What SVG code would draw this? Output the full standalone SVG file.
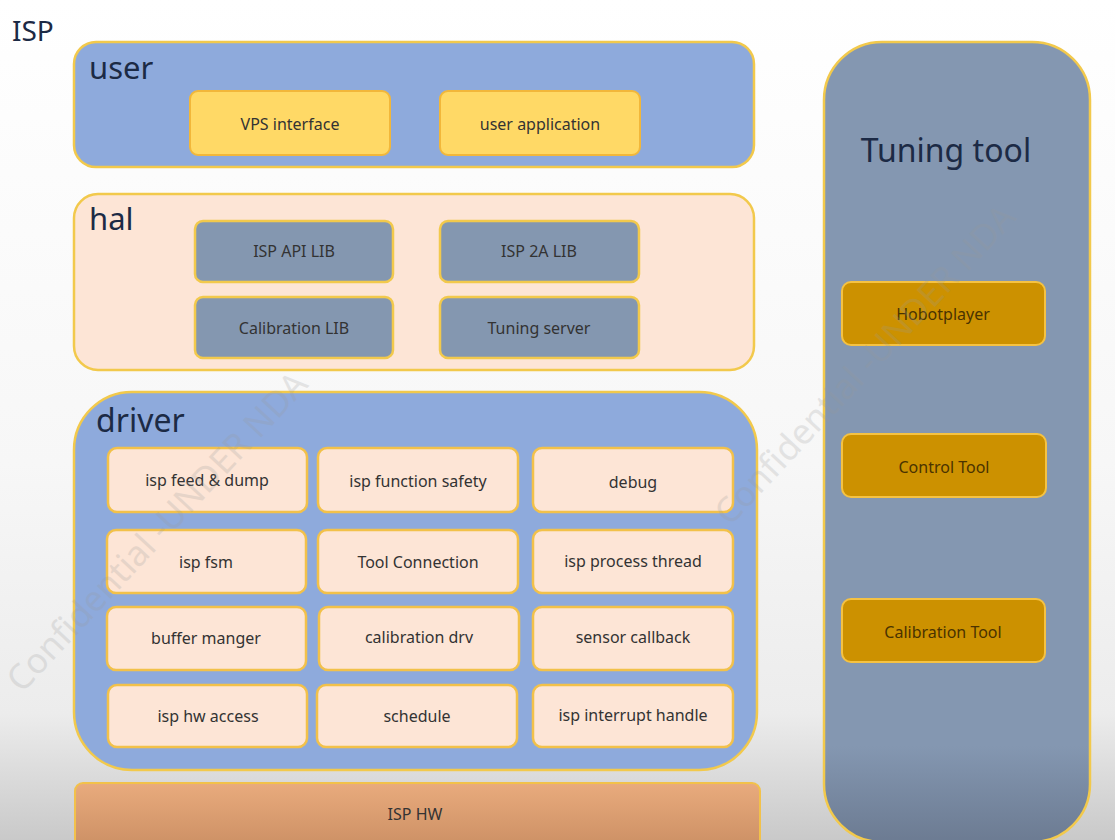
<svg xmlns="http://www.w3.org/2000/svg" width="1115" height="840" viewBox="0 0 1115 840">
<defs>
<linearGradient id="bg" x1="0" y1="0" x2="0" y2="1">
<stop offset="0" stop-color="#ffffff"/>
<stop offset="0.55" stop-color="#f7f7f7"/>
<stop offset="0.85" stop-color="#ececec"/>
<stop offset="1" stop-color="#c9c9c9"/>
</linearGradient>
<linearGradient id="hw" x1="0" y1="0" x2="0" y2="1">
<stop offset="0" stop-color="#e9ab7d"/>
<stop offset="1" stop-color="#c98d62"/>
</linearGradient>
<linearGradient id="tt" x1="0" y1="0" x2="0" y2="1">
<stop offset="0" stop-color="#8497b1"/>
<stop offset="0.88" stop-color="#8497b1"/>
<stop offset="1" stop-color="#6c7b92"/>
</linearGradient>
<style>
.layer{stroke:#f2c94c;stroke-width:2.5}
.blue{fill:#8eaadc}
.peach{fill:#fde5d6}
.title{font-family:"Noto Sans","Liberation Sans",sans-serif;fill:#1c2a45}
.lbl{font-family:"Noto Sans","Liberation Sans",sans-serif;font-size:16px;text-anchor:middle;fill:#333}
.ybox{fill:#ffd966;stroke:#f2b73a;stroke-width:2}
.gbox{fill:#8497b0;stroke:#f2c94c;stroke-width:2.5}
.pbox{fill:#fde5d6;stroke:#f2c14a;stroke-width:2.5}
.obox{fill:#cc9100;stroke:#f5c242;stroke-width:2}
.olbl{font-family:"Noto Sans","Liberation Sans",sans-serif;font-size:16px;text-anchor:middle;fill:#4a3300}
.wm{font-family:"Noto Sans","Liberation Sans",sans-serif;font-size:35px;fill:#9a9a9a;opacity:0.22}
</style>
</defs>
<rect x="0" y="0" width="1115" height="840" fill="url(#bg)"/>
<text x="12" y="41" class="title" font-size="28" fill="#222">ISP</text>

<g id="user">
<rect x="74" y="42" width="680" height="125" rx="22" class="layer blue"/>
<text x="89" y="79" class="title" font-size="31">user</text>
<g id="vps-interface"><rect x="190" y="91" width="200" height="64" rx="8" class="ybox"/><text x="290" y="130" class="lbl">VPS interface</text></g>
<g id="user-application"><rect x="440" y="91" width="200" height="64" rx="8" class="ybox"/><text x="540" y="130" class="lbl">user application</text></g>
</g>

<g id="hal">
<rect x="74" y="194" width="680" height="176" rx="24" class="layer peach"/>
<text x="89" y="230" class="title" font-size="31" fill="#222">hal</text>
<g id="isp-api-lib"><rect x="195" y="221" width="198" height="61" rx="8" class="gbox"/><text x="294" y="257" class="lbl">ISP API LIB</text></g>
<g id="isp-2a-lib"><rect x="440" y="221" width="199" height="61" rx="8" class="gbox"/><text x="539" y="257" class="lbl">ISP 2A LIB</text></g>
<g id="calibration-lib"><rect x="195" y="297" width="198" height="61" rx="8" class="gbox"/><text x="294" y="334" class="lbl">Calibration LIB</text></g>
<g id="tuning-server"><rect x="440" y="297" width="199" height="61" rx="8" class="gbox"/><text x="539" y="334" class="lbl">Tuning server</text></g>
</g>

<g id="driver">
<rect x="74" y="392" width="683" height="378" rx="58" class="layer blue"/>
<text x="96" y="432" class="title" font-size="32">driver</text>
<g id="isp-feed-dump"><rect x="108" y="448" width="199" height="64" rx="9" class="pbox"/><text x="207" y="486" class="lbl">isp feed &amp; dump</text></g>
<g id="isp-function-safety"><rect x="318" y="448" width="200" height="64" rx="9" class="pbox"/><text x="418" y="487" class="lbl">isp function safety</text></g>
<g id="debug"><rect x="533" y="448" width="200" height="64" rx="9" class="pbox"/><text x="633" y="488" class="lbl">debug</text></g>
<g id="isp-fsm"><rect x="107" y="530" width="199" height="63" rx="9" class="pbox"/><text x="206" y="568" class="lbl">isp fsm</text></g>
<g id="tool-connection"><rect x="318" y="530" width="200" height="63" rx="9" class="pbox"/><text x="418" y="568" class="lbl">Tool Connection</text></g>
<g id="isp-process-thread"><rect x="533" y="530" width="200" height="63" rx="9" class="pbox"/><text x="633" y="567" class="lbl">isp process thread</text></g>
<g id="buffer-manger"><rect x="107" y="607" width="199" height="63" rx="9" class="pbox"/><text x="206" y="644" class="lbl">buffer manger</text></g>
<g id="calibration-drv"><rect x="319" y="607" width="200" height="63" rx="9" class="pbox"/><text x="419" y="643" class="lbl">calibration drv</text></g>
<g id="sensor-callback"><rect x="533" y="607" width="200" height="63" rx="9" class="pbox"/><text x="633" y="643" class="lbl">sensor callback</text></g>
<g id="isp-hw-access"><rect x="108" y="685" width="199" height="62" rx="9" class="pbox"/><text x="208" y="722" class="lbl">isp hw access</text></g>
<g id="schedule"><rect x="317" y="685" width="200" height="62" rx="9" class="pbox"/><text x="417" y="722" class="lbl">schedule</text></g>
<g id="isp-interrupt-handle"><rect x="533" y="685" width="200" height="62" rx="9" class="pbox"/><text x="633" y="721" class="lbl">isp interrupt handle</text></g>
</g>

<g id="isp-hw">
<rect x="75" y="783" width="685" height="70" rx="8" fill="url(#hw)" stroke="#f2c14a" stroke-width="2"/>
<text x="415" y="820" class="lbl">ISP HW</text>
</g>

<g id="tuning-tool">
<rect x="824" y="42" width="266" height="800" rx="58" fill="url(#tt)" stroke="#f2c94c" stroke-width="2.5"/>
<text x="946" y="162" class="title" font-size="32" text-anchor="middle">Tuning tool</text>
<g id="hobotplayer"><rect x="842" y="282" width="203" height="63" rx="9" class="obox"/><text x="943" y="320" class="olbl">Hobotplayer</text></g>
<g id="control-tool"><rect x="842" y="434" width="204" height="63" rx="9" class="obox"/><text x="944" y="473" class="olbl">Control Tool</text></g>
<g id="calibration-tool"><rect x="842" y="599" width="203" height="63" rx="9" class="obox"/><text x="943" y="638" class="olbl">Calibration Tool</text></g>
</g>

<g id="connectors"/>

<g id="watermarks">
<text class="wm" transform="translate(22,694) rotate(-47)">Confidential -UNDER NDA</text>
<text class="wm" transform="translate(730,527) rotate(-47)">Confidential -UNDER NDA</text>
</g>
</svg>
